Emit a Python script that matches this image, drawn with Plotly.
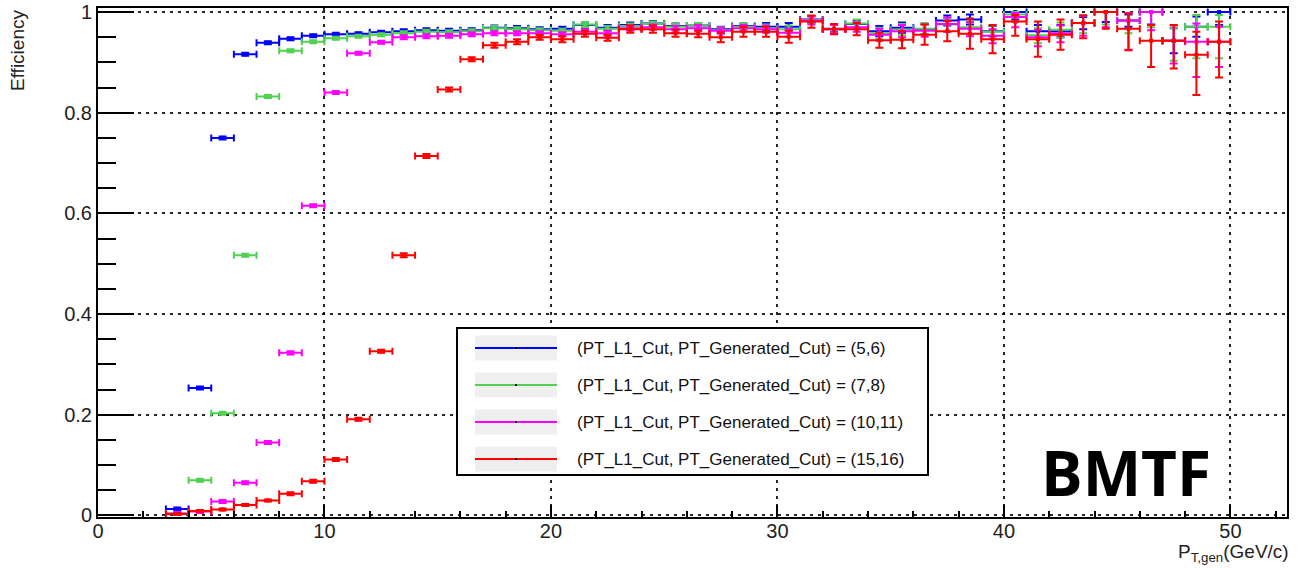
import plotly.graph_objects as go

# Generated-muon pT bins (GeV/c): lower edges of 1 GeV bins from 3 to 50
bin_low = [3, 4, 5, 6, 7, 8, 9, 10, 11, 12, 13, 14, 15, 16, 17, 18, 19, 20, 21, 22, 23, 24,
           25, 26, 27, 28, 29, 30, 31, 32, 33, 34, 35, 36, 37, 38, 39, 40, 41, 42, 43, 44,
           45, 46, 47, 48, 49]
bin_half_width = 0.5

# Efficiency per bin for each (PT_L1_Cut, PT_Generated_Cut) pair
eff_5_6 = [0.013, 0.253, 0.750, 0.916, 0.939, 0.947, 0.953, 0.956, 0.957, 0.960, 0.962, 0.964,
           0.963, 0.964, 0.969, 0.968, 0.966, 0.967, 0.974, 0.969, 0.974, 0.977, 0.972, 0.973,
           0.966, 0.972, 0.971, 0.971, 0.985, 0.967, 0.976, 0.962, 0.969, 0.966, 0.983, 0.985,
           0.962, 1.000, 0.962, 0.962, 0.978, 1.000, 0.983, 1.000, 0.943, 0.971, 1.000]
eff_7_8 = [0.004, 0.070, 0.203, 0.517, 0.832, 0.923, 0.941, 0.948, 0.952, 0.955, 0.958, 0.961,
           0.960, 0.962, 0.968, 0.966, 0.964, 0.963, 0.975, 0.967, 0.972, 0.976, 0.971, 0.973,
           0.964, 0.971, 0.968, 0.966, 0.984, 0.966, 0.977, 0.958, 0.965, 0.967, 0.975, 0.970,
           0.961, 0.995, 0.954, 0.965, 0.978, 1.000, 0.983, 1.000, 0.943, 0.971, 0.971]
eff_10_11 = [0.004, 0.008, 0.028, 0.065, 0.145, 0.323, 0.615, 0.840, 0.918, 0.940, 0.950, 0.952,
             0.953, 0.956, 0.958, 0.958, 0.958, 0.956, 0.961, 0.958, 0.968, 0.970, 0.966, 0.968,
             0.963, 0.968, 0.966, 0.959, 0.983, 0.966, 0.970, 0.955, 0.962, 0.963, 0.976, 0.967,
             0.953, 0.990, 0.950, 0.958, 0.978, 1.000, 0.983, 1.000, 0.943, 0.941, 0.941]
eff_15_16 = [0.003, 0.009, 0.012, 0.021, 0.030, 0.043, 0.068, 0.111, 0.191, 0.326, 0.517, 0.714,
             0.846, 0.906, 0.934, 0.941, 0.950, 0.946, 0.957, 0.949, 0.966, 0.966, 0.958, 0.957,
             0.950, 0.961, 0.961, 0.951, 0.981, 0.966, 0.966, 0.944, 0.945, 0.955, 0.962, 0.957,
             0.946, 0.981, 0.946, 0.955, 0.978, 1.000, 0.967, 0.943, 0.943, 0.915, 0.941]

# Asymmetric (upper / lower) efficiency uncertainties
err_hi_5_6 = [0.003, 0.003, 0.003, 0.003, 0.003, 0.003, 0.003, 0.003, 0.003, 0.003, 0.004, 0.004,
              0.004, 0.004, 0.004, 0.004, 0.004, 0.004, 0.005, 0.005, 0.005, 0.005, 0.005, 0.005,
              0.005, 0.005, 0.007, 0.007, 0.007, 0.007, 0.007, 0.010, 0.010, 0.010, 0.010, 0.010,
              0.010, 0.000, 0.012, 0.012, 0.012, 0.000, 0.012, 0.000, 0.025, 0.020, 0.000]
err_lo_5_6 = [0.003, 0.003, 0.003, 0.003, 0.003, 0.003, 0.003, 0.003, 0.003, 0.003, 0.004, 0.004,
              0.004, 0.004, 0.004, 0.004, 0.004, 0.004, 0.005, 0.005, 0.005, 0.005, 0.005, 0.005,
              0.005, 0.005, 0.007, 0.007, 0.007, 0.007, 0.007, 0.010, 0.010, 0.010, 0.010, 0.010,
              0.010, 0.015, 0.012, 0.012, 0.012, 0.020, 0.012, 0.025, 0.025, 0.020, 0.026]
err_hi_7_8 = [0.003, 0.003, 0.003, 0.003, 0.003, 0.003, 0.003, 0.003, 0.003, 0.003, 0.004, 0.004,
              0.004, 0.004, 0.004, 0.004, 0.004, 0.004, 0.005, 0.005, 0.005, 0.005, 0.005, 0.005,
              0.006, 0.006, 0.007, 0.007, 0.007, 0.008, 0.008, 0.011, 0.011, 0.011, 0.012, 0.012,
              0.012, 0.005, 0.014, 0.014, 0.015, 0.000, 0.015, 0.000, 0.025, 0.023, 0.023]
err_lo_7_8 = [0.003, 0.003, 0.003, 0.003, 0.003, 0.003, 0.003, 0.003, 0.003, 0.003, 0.004, 0.004,
              0.004, 0.004, 0.004, 0.004, 0.004, 0.004, 0.005, 0.005, 0.005, 0.005, 0.005, 0.005,
              0.006, 0.006, 0.007, 0.007, 0.007, 0.008, 0.008, 0.011, 0.011, 0.011, 0.014, 0.014,
              0.014, 0.015, 0.016, 0.016, 0.020, 0.025, 0.025, 0.030, 0.040, 0.063, 0.063]
err_hi_10_11 = [0.003, 0.003, 0.003, 0.003, 0.003, 0.003, 0.003, 0.003, 0.003, 0.003, 0.004, 0.004,
                0.004, 0.004, 0.004, 0.004, 0.004, 0.004, 0.005, 0.005, 0.005, 0.005, 0.006, 0.006,
                0.006, 0.006, 0.007, 0.008, 0.008, 0.008, 0.009, 0.012, 0.012, 0.012, 0.013, 0.013,
                0.013, 0.008, 0.015, 0.015, 0.015, 0.000, 0.015, 0.000, 0.030, 0.036, 0.030]
err_lo_10_11 = [0.003, 0.003, 0.003, 0.003, 0.003, 0.003, 0.003, 0.003, 0.003, 0.003, 0.004, 0.004,
                0.004, 0.004, 0.004, 0.004, 0.004, 0.004, 0.005, 0.005, 0.005, 0.005, 0.006, 0.006,
                0.006, 0.006, 0.007, 0.008, 0.008, 0.008, 0.009, 0.012, 0.012, 0.012, 0.015, 0.015,
                0.015, 0.020, 0.018, 0.018, 0.025, 0.030, 0.058, 0.036, 0.045, 0.070, 0.050]
err_hi_15_16 = [0.002, 0.002, 0.002, 0.002, 0.002, 0.003, 0.003, 0.003, 0.003, 0.003, 0.004, 0.004,
                0.004, 0.004, 0.005, 0.005, 0.005, 0.006, 0.006, 0.006, 0.007, 0.007, 0.007, 0.007,
                0.010, 0.010, 0.010, 0.012, 0.012, 0.010, 0.012, 0.015, 0.017, 0.020, 0.020, 0.030,
                0.028, 0.013, 0.035, 0.030, 0.015, 0.000, 0.030, 0.031, 0.031, 0.046, 0.040]
err_lo_15_16 = [0.002, 0.002, 0.002, 0.002, 0.002, 0.003, 0.003, 0.003, 0.003, 0.003, 0.004, 0.004,
                0.004, 0.004, 0.005, 0.005, 0.005, 0.006, 0.006, 0.006, 0.007, 0.007, 0.007, 0.007,
                0.010, 0.010, 0.010, 0.012, 0.012, 0.010, 0.012, 0.015, 0.017, 0.020, 0.020, 0.030,
                0.028, 0.028, 0.035, 0.030, 0.030, 0.033, 0.043, 0.052, 0.055, 0.080, 0.071]

series_names = [
    "(PT_L1_Cut, PT_Generated_Cut) = (5,6)",
    "(PT_L1_Cut, PT_Generated_Cut) = (7,8)",
    "(PT_L1_Cut, PT_Generated_Cut) = (10,11)",
    "(PT_L1_Cut, PT_Generated_Cut) = (15,16)",
]
series_colors = ["#0000ff", "#4fd24f", "#ff00ff", "#ff0000"]
series_eff = [eff_5_6, eff_7_8, eff_10_11, eff_15_16]
series_err_hi = [err_hi_5_6, err_hi_7_8, err_hi_10_11, err_hi_15_16]
series_err_lo = [err_lo_5_6, err_lo_7_8, err_lo_10_11, err_lo_15_16]

bin_center = [b + bin_half_width for b in bin_low]

fig = go.Figure()
for name, color, eff, ehi, elo in zip(series_names, series_colors, series_eff,
                                      series_err_hi, series_err_lo):
    fig.add_trace(go.Scatter(
        x=bin_center, y=eff, name=name, mode="markers",
        marker=dict(symbol="square", size=4, color=color),
        error_x=dict(type="constant", value=bin_half_width, color=color,
                     thickness=2, width=3.5),
        error_y=dict(type="data", array=ehi, arrayminus=elo, symmetric=False,
                     color=color, thickness=2, width=4),
        showlegend=False,
    ))

# Plot-frame geometry in pixels, used to place the legend box and labels
FIG_W, FIG_H = 1301, 568
L, R, T, B = 98, 14, 8, 51
PW, PH = FIG_W - L - R, FIG_H - T - B


def px_x(p):
    return (p - L) / PW


def px_y(p):
    return (FIG_H - B - p) / PH


tick_font = dict(family="Liberation Sans, Arial, sans-serif", size=20, color="#222")

fig.update_xaxes(
    range=[0, 52.5], dtick=10, tick0=0, automargin=False,
    showline=True, linecolor="black", linewidth=2, mirror=True,
    ticks="inside", ticklen=12, tickwidth=2, tickcolor="black",
    minor=dict(ticks="inside", ticklen=6, tickwidth=2, tickcolor="black", dtick=2,
               showgrid=False),
    showgrid=True, gridcolor="rgba(0,0,0,0.85)", gridwidth=2, griddash="3px,5px",
    zeroline=False, tickfont=tick_font, ticklabelstandoff=-5,
)
fig.update_yaxes(
    range=[-0.003, 1.008], dtick=0.2, tick0=0, automargin=False,
    showline=True, linecolor="black", linewidth=2, mirror=True,
    ticks="inside", ticklen=36, tickwidth=2, tickcolor="black",
    minor=dict(ticks="inside", ticklen=18, tickwidth=2, tickcolor="black", dtick=0.05,
               showgrid=False),
    showgrid=True, gridcolor="rgba(0,0,0,0.85)", gridwidth=2, griddash="3px,5px",
    zeroline=False, tickfont=tick_font, tickformat="~g",
)

shapes = []
annotations = []

# Legend box
shapes.append(dict(type="rect", xref="paper", yref="paper",
                   x0=px_x(457), x1=px_x(928), y0=px_y(475), y1=px_y(328),
                   line=dict(color="black", width=2), fillcolor="white", layer="above"))
legend_rows = [348, 385, 422, 459]
for row, name, color in zip(legend_rows, series_names, series_colors):
    shapes.append(dict(type="rect", xref="paper", yref="paper",
                       x0=px_x(475), x1=px_x(557), y0=px_y(row + 12.5), y1=px_y(row - 12.5),
                       line=dict(width=0), fillcolor="#efefef", layer="above"))
    shapes.append(dict(type="line", xref="paper", yref="paper",
                       x0=px_x(475), x1=px_x(557), y0=px_y(row), y1=px_y(row),
                       line=dict(color=color, width=2), layer="above"))
    shapes.append(dict(type="rect", xref="paper", yref="paper",
                       x0=px_x(515), x1=px_x(517), y0=px_y(row + 1), y1=px_y(row - 1),
                       line=dict(width=0), fillcolor="black", layer="above"))
    annotations.append(dict(xref="paper", yref="paper", x=px_x(575), y=px_y(row),
                            xanchor="left", yanchor="middle", showarrow=False, text=name,
                            font=dict(family="Liberation Sans, Arial, sans-serif", size=17,
                                      color="#111")))

# Axis titles
annotations.append(dict(xref="paper", yref="paper", x=px_x(18), y=px_y(51),
                        xanchor="center", yanchor="middle", showarrow=False,
                        text="Efficiency", textangle=-90,
                        font=dict(family="Liberation Sans, Arial, sans-serif", size=19,
                                  color="#222")))
annotations.append(dict(xref="paper", yref="paper", x=px_x(1291), y=px_y(553),
                        xanchor="right", yanchor="middle", showarrow=False,
                        text="P<sub>T,gen</sub>(GeV/c)",
                        font=dict(family="Liberation Sans, Arial, sans-serif", size=19,
                                  color="#222")))

# Trigger label
annotations.append(dict(xref="paper", yref="paper", x=px_x(1126), y=px_y(472),
                        xanchor="center", yanchor="middle", showarrow=False,
                        text="<b>BMTF</b>",
                        font=dict(family="Open Sans, sans-serif", size=62, color="black")))

fig.update_layout(
    width=FIG_W, height=FIG_H,
    margin=dict(l=L, r=R, t=T, b=B),
    plot_bgcolor="white", paper_bgcolor="white",
    showlegend=False,
    shapes=shapes, annotations=annotations,
)

fig.write_html("out.html")
